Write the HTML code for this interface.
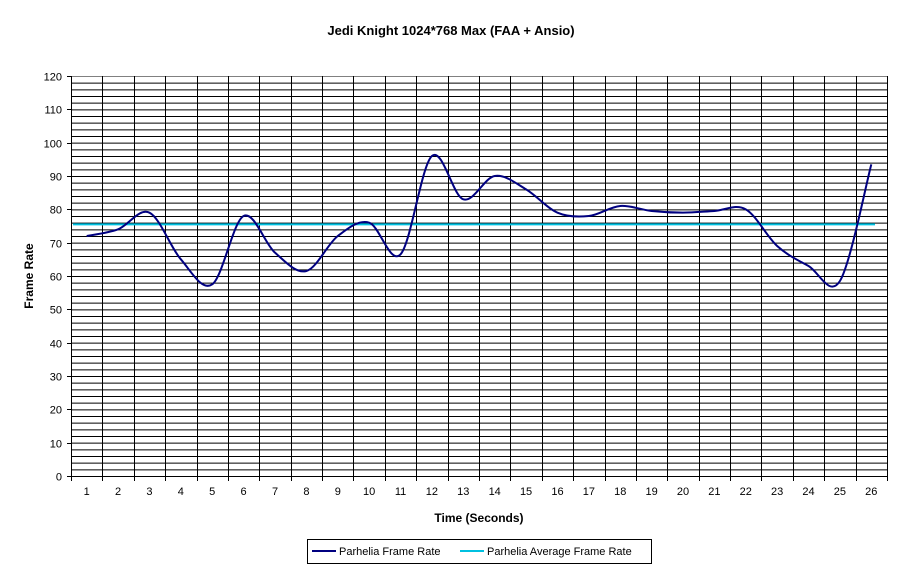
<!DOCTYPE html><html><head><style>body{margin:0;background:#fff}svg{display:block;font-family:"Liberation Sans",Arial,sans-serif}</style></head><body>
<svg id="s" width="902" height="572" xmlns="http://www.w3.org/2000/svg">
<text x="451" y="35" text-anchor="middle" font-size="13" font-weight="bold">Jedi Knight 1024*768 Max (FAA + Ansio)</text>
<g id="g"></g>
<text x="479" y="522" text-anchor="middle" font-size="12" font-weight="bold">Time (Seconds)</text>
<text transform="translate(33,276) rotate(-90)" text-anchor="middle" font-size="12" font-weight="bold">Frame Rate</text>
<rect x="307.5" y="539.5" width="344" height="24" fill="#fff" stroke="#000"/>
<line x1="312" y1="551" x2="336" y2="551" stroke="#000080" stroke-width="2"/>
<text x="339" y="555" font-size="11">Parhelia Frame Rate</text>
<line x1="460" y1="551" x2="484" y2="551" stroke="#00c0e0" stroke-width="2"/>
<text x="487" y="555" font-size="11">Parhelia Average Frame Rate</text>
</svg>
<script>
var g=document.getElementById('g'),h='';
var L=71,R=887,T=76,B=476,cw=(R-L)/26;
function Y(v){return B-(B-T)*v/120;}
for(var v=2;v<120;v+=2)h+='<line x1="'+L+'" x2="'+R+'" y1="'+(Y(v)+.5)+'" y2="'+(Y(v)+.5)+'" stroke="#000"/>';
h+='<line x1="'+L+'" x2="'+R+'" y1="'+(T+.5)+'" y2="'+(T+.5)+'" stroke="#808080"/>';
h+='<line x1="'+(R+.5)+'" x2="'+(R+.5)+'" y1="'+T+'" y2="'+B+'" stroke="#808080"/>';
for(var i=0;i<=26;i++){var x=Math.round(L+cw*i)+.5;h+='<line x1="'+x+'" x2="'+x+'" y1="'+T+'" y2="'+(B+5)+'" stroke="#000"/>';
if(i<26)h+='<text x="'+(L+cw*(i+.5))+'" y="'+(B+19)+'" text-anchor="middle" font-size="11">'+(i+1)+'</text>';}
for(var v=0;v<=120;v+=10){var y=Math.round(Y(v))+.5;h+='<line x1="'+(L-4)+'" x2="'+L+'" y1="'+y+'" y2="'+y+'" stroke="#000"/><text x="'+(L-9)+'" y="'+(y+4)+'" text-anchor="end" font-size="11">'+v+'</text>';}
h+='<line x1="'+L+'" x2="'+R+'" y1="'+(B+.5)+'" y2="'+(B+.5)+'" stroke="#000"/>';
h+='<line x1="73" x2="875" y1="'+Y(75.5)+'" y2="'+Y(75.5)+'" stroke="#00c0e0" stroke-width="2"/>';
var d=[72,74,79,65,57.5,78,67,61.5,72,76,66.5,96,83,90,86,79,78,81,79.5,79,79.5,80,69,63,58.5,93.5];
var p=d.map(function(v,i){return [L+cw*(i+.5),Y(v)];});
var s='M'+p[0][0]+','+p[0][1];
for(var i=0;i<p.length-1;i++){var p0=p[Math.max(i-1,0)],p1=p[i],p2=p[i+1],p3=p[Math.min(i+2,p.length-1)],k=6;
s+=' C'+(p1[0]+(p2[0]-p0[0])/k)+','+(p1[1]+(p2[1]-p0[1])/k)+' '+(p2[0]-(p3[0]-p1[0])/k)+','+(p2[1]-(p3[1]-p1[1])/k)+' '+p2[0]+','+p2[1];}
h+='<path d="'+s+'" fill="none" stroke="#000080" stroke-width="2"/>';
g.innerHTML=h;
</script></body></html>
